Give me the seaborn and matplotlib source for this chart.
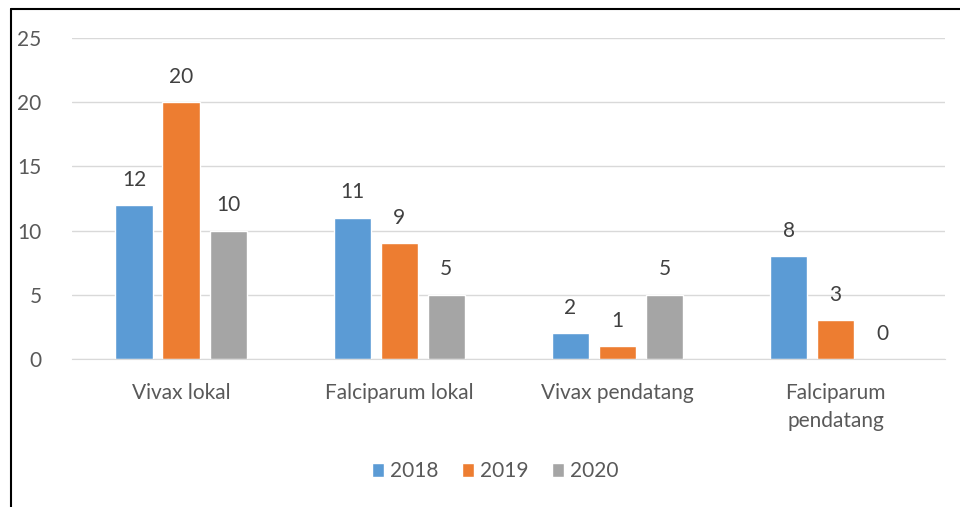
import matplotlib.pyplot as plt
import pandas as pd
import seaborn as sns
from matplotlib.lines import Line2D

categories = ['Vivax lokal', 'Falciparum lokal', 'Vivax pendatang', 'Falciparum\npendatang']
years = ['2018', '2019', '2020']
cases_2018 = [12, 11, 2, 8]
cases_2019 = [20, 9, 1, 3]
cases_2020 = [10, 5, 5, 0]
colors = ['#5B9BD5', '#ED7D31', '#A5A5A5']

df = pd.DataFrame({
    'kategori': categories * 3,
    'tahun': [y for y in years for _ in categories],
    'kasus': cases_2018 + cases_2019 + cases_2020,
})

sns.set_style('white')
plt.rcParams['font.family'] = ['Lato', 'DejaVu Sans']
text_color = '#595959'

fig = plt.figure(figsize=(9.6, 5.07), dpi=100)
ax = fig.add_axes([0.075, 0.292, 0.909, 0.633])

sns.barplot(data=df, x='kategori', y='kasus', hue='tahun', palette=colors,
            width=0.647, gap=0.21, ax=ax, saturation=1, legend=True)

for c in ax.containers:
    ax.bar_label(c, padding=11, fontsize=15, color='#404040')

ax.set_ylim(0, 25)
ax.set_yticks(range(0, 26, 5))
ax.set_xlim(-0.5, 3.5)
ax.yaxis.grid(True, color='#D9D9D9', linewidth=1)
ax.set_axisbelow(True)
for s in ['top', 'right', 'left']:
    ax.spines[s].set_visible(False)
ax.spines['bottom'].set_color('#D9D9D9')
ax.tick_params(axis='both', length=0, labelsize=15, labelcolor=text_color)
ax.tick_params(axis='y', pad=22)
ax.tick_params(axis='x', pad=17)
for lbl in ax.get_xticklabels():
    lbl.set_linespacing(1.55)
ax.set_xlabel('')
ax.set_ylabel('')

leg = ax.legend(loc='center', bbox_to_anchor=(0.485, -0.35), ncol=3,
                frameon=False, fontsize=15, handlelength=0.6, handleheight=0.6,
                handletextpad=0.3, columnspacing=1.1)
for t in leg.get_texts():
    t.set_color(text_color)

# chart frame on the left and top edges
fig.add_artist(Line2D([0.011, 0.011], [0, 0.982], transform=fig.transFigure, color='black', linewidth=1.5))
fig.add_artist(Line2D([0.011, 1.0], [0.982, 0.982], transform=fig.transFigure, color='black', linewidth=1.5))

plt.savefig('out.png', dpi=100)
